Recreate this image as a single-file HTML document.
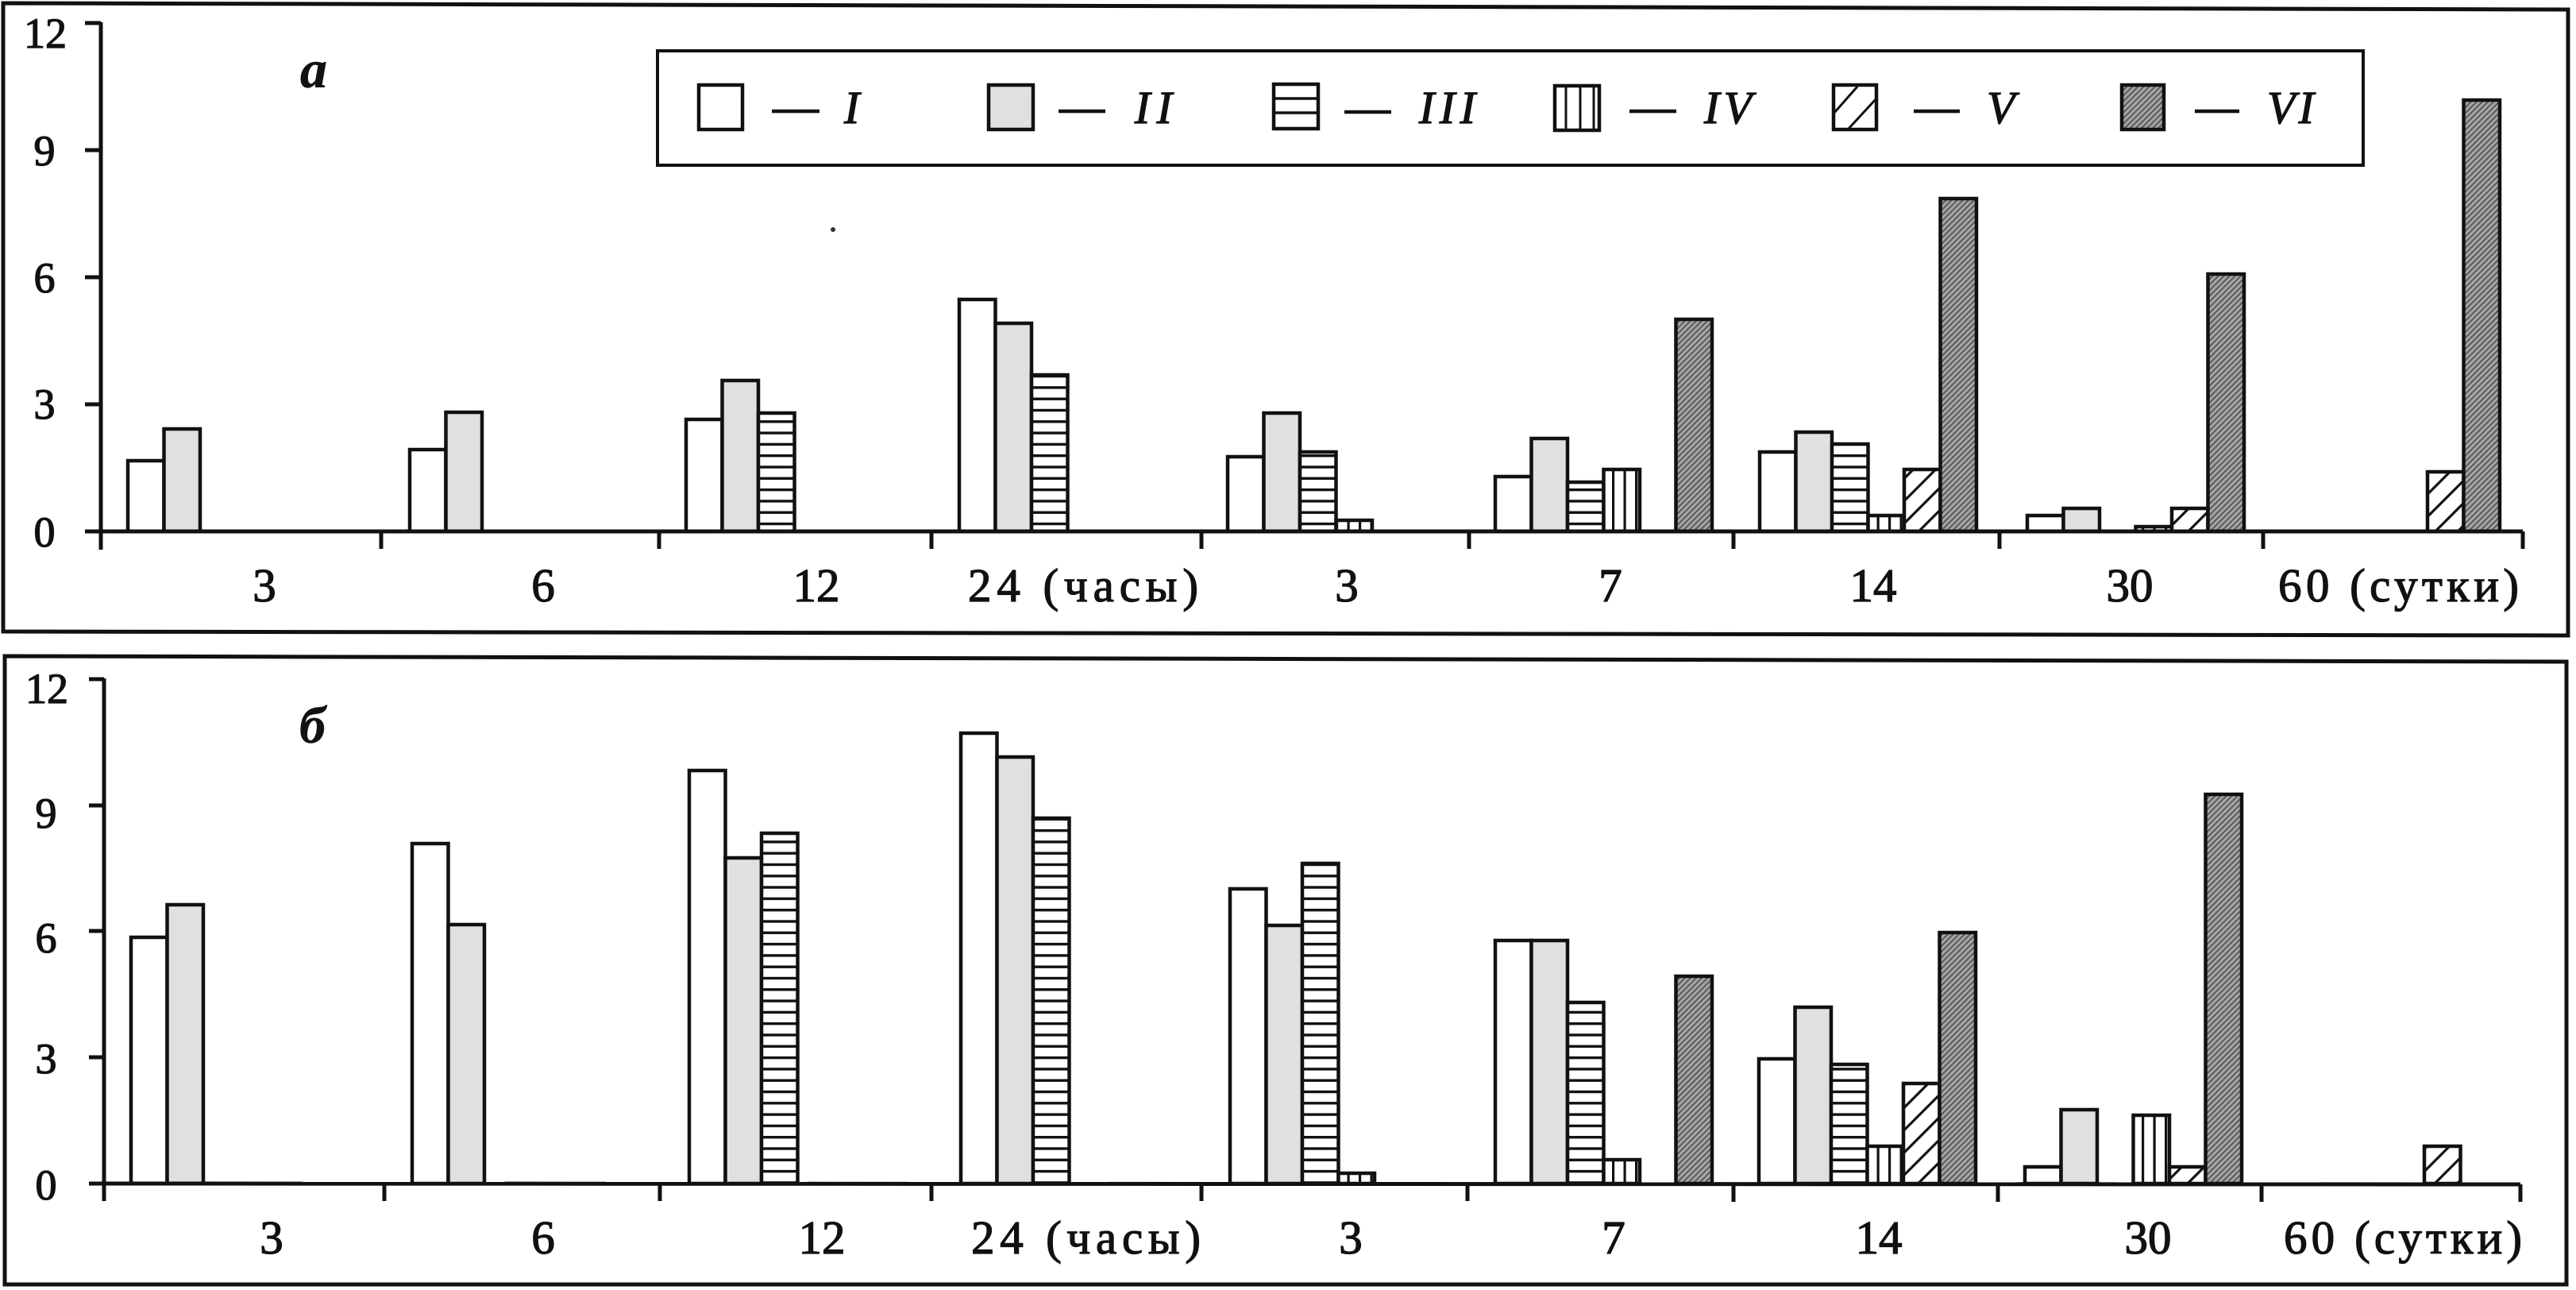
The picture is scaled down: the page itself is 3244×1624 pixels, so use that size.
<!DOCTYPE html>
<html><head><meta charset="utf-8"><style>
html,body{margin:0;padding:0;background:#fff;}
svg{display:block;}
text{font-family:"Liberation Serif",serif;fill:#111;stroke:#111;stroke-width:1.3px;}
</style></head><body>
<svg width="3244" height="1624" viewBox="0 0 3244 1624" xmlns="http://www.w3.org/2000/svg">
<defs>
<pattern id="p3" patternUnits="userSpaceOnUse" width="20" height="14.3"><rect width="20" height="14.3" fill="#fff"/><rect y="0" width="20" height="3.4" fill="#111"/></pattern>
<pattern id="p4" patternUnits="userSpaceOnUse" width="14.5" height="20"><rect width="14.5" height="20" fill="#fff"/><rect x="0" width="3.2" height="20" fill="#111"/></pattern>
<pattern id="p5" patternUnits="userSpaceOnUse" width="20" height="20" patternTransform="rotate(45)"><rect width="20" height="20" fill="#fff"/><rect x="0" width="3.2" height="20" fill="#111"/></pattern>
<pattern id="p6" patternUnits="userSpaceOnUse" width="5" height="5" patternTransform="rotate(45)"><rect width="5" height="5" fill="#a6a6a6"/><rect x="0" width="2" height="5" fill="#5a5a5a"/></pattern>
</defs>
<rect width="3244" height="1624" fill="#fff"/>

<!-- ===== Panel a ===== -->
<polygon points="4,4 3234,12 3234,800 4,795" fill="none" stroke="#111" stroke-width="5"/>

<g stroke="#111" stroke-width="4.5">
<rect x="161" y="580" width="45.5" height="89" fill="#fff"/>
<rect x="206.5" y="540" width="45.5" height="129" fill="#e0e0e0"/>
<rect x="516" y="566" width="45.5" height="103" fill="#fff"/>
<rect x="561.5" y="519" width="45.5" height="150" fill="#e0e0e0"/>
<rect x="864" y="528" width="45.5" height="141" fill="#fff"/>
<rect x="909.5" y="479" width="45.5" height="190" fill="#e0e0e0"/>
<rect x="955" y="520" width="45.5" height="149" fill="url(#p3)"/>
<rect x="1208" y="377" width="45.5" height="292" fill="#fff"/>
<rect x="1253.5" y="407" width="45.5" height="262" fill="#e0e0e0"/>
<rect x="1299" y="472" width="45.5" height="197" fill="url(#p3)"/>
<rect x="1546" y="575" width="45.5" height="94" fill="#fff"/>
<rect x="1591.5" y="520" width="45.5" height="149" fill="#e0e0e0"/>
<rect x="1637" y="569" width="45.5" height="100" fill="url(#p3)"/>
<rect x="1682.5" y="655" width="45.5" height="14" fill="url(#p4)"/>
<rect x="1883" y="600" width="45.5" height="69" fill="#fff"/>
<rect x="1928.5" y="552" width="45.5" height="117" fill="#e0e0e0"/>
<rect x="1974" y="607" width="45.5" height="62" fill="url(#p3)"/>
<rect x="2019.5" y="591" width="45.5" height="78" fill="url(#p4)"/>
<rect x="2110.5" y="402" width="45.5" height="267" fill="url(#p6)"/>
<rect x="2216" y="569" width="45.5" height="100" fill="#fff"/>
<rect x="2261.5" y="544" width="45.5" height="125" fill="#e0e0e0"/>
<rect x="2307" y="559" width="45.5" height="110" fill="url(#p3)"/>
<rect x="2352.5" y="649" width="45.5" height="20" fill="url(#p4)"/>
<rect x="2398" y="591" width="45.5" height="78" fill="url(#p5)"/>
<rect x="2443.5" y="250" width="45.5" height="419" fill="url(#p6)"/>
<rect x="2553" y="649" width="45.5" height="20" fill="#fff"/>
<rect x="2598.5" y="640" width="45.5" height="29" fill="#e0e0e0"/>
<rect x="2689.5" y="663" width="45.5" height="6" fill="url(#p4)"/>
<rect x="2735" y="640" width="45.5" height="29" fill="url(#p5)"/>
<rect x="2780.5" y="345" width="45.5" height="324" fill="url(#p6)"/>
<rect x="3057" y="594" width="45.5" height="75" fill="url(#p5)"/>
<rect x="3102.5" y="126" width="45.5" height="543" fill="url(#p6)"/>
</g>

<g stroke="#111" stroke-width="5" fill="none">
<line x1="127" y1="28" x2="127" y2="692"/>
<line x1="107" y1="669" x2="3177" y2="669"/>
<line x1="107" y1="29" x2="127" y2="29"/>
<line x1="107" y1="189" x2="127" y2="189"/>
<line x1="107" y1="349" x2="127" y2="349"/>
<line x1="107" y1="509" x2="127" y2="509"/>
<line x1="480" y1="669" x2="480" y2="691"/>
<line x1="830" y1="669" x2="830" y2="691"/>
<line x1="1173" y1="669" x2="1173" y2="691"/>
<line x1="1513" y1="669" x2="1513" y2="691"/>
<line x1="1850" y1="669" x2="1850" y2="691"/>
<line x1="2183" y1="669" x2="2183" y2="691"/>
<line x1="2518" y1="669" x2="2518" y2="691"/>
<line x1="2850" y1="669" x2="2850" y2="691"/>
<line x1="3177" y1="669" x2="3177" y2="691"/>
</g>
<g font-size="54" text-anchor="middle">
<text x="57" y="60">12</text>
<text x="56" y="208">9</text>
<text x="56" y="368">6</text>
<text x="56" y="527">3</text>
<text x="56" y="688">0</text>
</g>
<g font-size="59">
<text x="333" y="757" text-anchor="middle">3</text>
<text x="684" y="757" text-anchor="middle">6</text>
<text x="1028" y="757" text-anchor="middle">12</text>
<text x="1219" y="757" textLength="290" lengthAdjust="spacing">24 (часы)</text>
<text x="1696" y="757" text-anchor="middle">3</text>
<text x="2028" y="757" text-anchor="middle">7</text>
<text x="2359" y="757" text-anchor="middle">14</text>
<text x="2682" y="757" text-anchor="middle">30</text>
<text x="2869" y="757" textLength="303" lengthAdjust="spacing">60 (сутки)</text>
</g>
<text x="378" y="110" font-size="68" font-style="italic" font-weight="bold" style="stroke-width:0.5px">а</text>
<circle cx="1049" cy="289" r="3" fill="#333"/>

<!-- legend -->
<rect x="828" y="64" width="2148" height="144" fill="#fff" stroke="#111" stroke-width="4"/>
<g stroke="#111" stroke-width="4.5">
<rect x="880" y="107" width="55" height="56" fill="#fff"/>
<rect x="1245" y="107" width="56" height="56" fill="#e0e0e0"/>
<rect x="1604" y="106" width="56" height="56" fill="#fff"/>
<line x1="1604" y1="124" x2="1660" y2="124" stroke-width="3.5"/>
<line x1="1604" y1="142" x2="1660" y2="142" stroke-width="3.5"/>
<rect x="1958" y="108" width="56" height="56" fill="#fff"/>
<line x1="1972" y1="108" x2="1972" y2="164" stroke-width="3"/>
<line x1="1990" y1="108" x2="1990" y2="164" stroke-width="3"/>
<line x1="2007" y1="108" x2="2007" y2="164" stroke-width="3"/>
<rect x="2309" y="107" width="54" height="56" fill="#fff"/>
<line x1="2309" y1="143" x2="2339" y2="109" stroke-width="3"/>
<line x1="2327" y1="163" x2="2363" y2="124" stroke-width="3"/>
<rect x="2672" y="107" width="53" height="56" fill="url(#p6)"/>
<line x1="972" y1="140" x2="1032" y2="140"/>
<line x1="1333" y1="140" x2="1392" y2="140"/>
<line x1="1693" y1="141" x2="1752" y2="141"/>
<line x1="2052" y1="140" x2="2111" y2="140"/>
<line x1="2410" y1="140" x2="2468" y2="140"/>
<line x1="2764" y1="140" x2="2820" y2="140"/>
</g>
<g font-size="58" font-style="italic">
<text x="1063" y="155">I</text>
<text x="1429" y="155" textLength="47" lengthAdjust="spacing">II</text>
<text x="1787" y="155" textLength="71" lengthAdjust="spacing">III</text>
<text x="2146" y="155" textLength="60" lengthAdjust="spacing">IV</text>
<text x="2502" y="155">V</text>
<text x="2855" y="155" textLength="59" lengthAdjust="spacing">VI</text>
</g>

<!-- ===== Panel b ===== -->
<polygon points="6,826 3232,833 3232,1617 6,1617" fill="none" stroke="#111" stroke-width="5"/>

<g stroke="#111" stroke-width="4.5">
<rect x="165" y="1180" width="45.5" height="310" fill="#fff"/>
<rect x="210.5" y="1139" width="45.5" height="351" fill="#e0e0e0"/>
<rect x="519" y="1062" width="45.5" height="428" fill="#fff"/>
<rect x="564.5" y="1164" width="45.5" height="326" fill="#e0e0e0"/>
<rect x="868" y="970" width="45.5" height="520" fill="#fff"/>
<rect x="913.5" y="1080" width="45.5" height="410" fill="#e0e0e0"/>
<rect x="959" y="1049" width="45.5" height="441" fill="url(#p3)"/>
<rect x="1210" y="923" width="45.5" height="567" fill="#fff"/>
<rect x="1255.5" y="953" width="45.5" height="537" fill="#e0e0e0"/>
<rect x="1301" y="1030" width="45.5" height="460" fill="url(#p3)"/>
<rect x="1549" y="1119" width="45.5" height="371" fill="#fff"/>
<rect x="1594.5" y="1165" width="45.5" height="325" fill="#e0e0e0"/>
<rect x="1640" y="1087" width="45.5" height="403" fill="url(#p3)"/>
<rect x="1685.5" y="1477" width="45.5" height="13" fill="url(#p4)"/>
<rect x="1883" y="1184" width="45.5" height="306" fill="#fff"/>
<rect x="1928.5" y="1184" width="45.5" height="306" fill="#e0e0e0"/>
<rect x="1974" y="1262" width="45.5" height="228" fill="url(#p3)"/>
<rect x="2019.5" y="1460" width="45.5" height="30" fill="url(#p4)"/>
<rect x="2110.5" y="1229" width="45.5" height="261" fill="url(#p6)"/>
<rect x="2215" y="1333" width="45.5" height="157" fill="#fff"/>
<rect x="2260.5" y="1268" width="45.5" height="222" fill="#e0e0e0"/>
<rect x="2306" y="1340" width="45.5" height="150" fill="url(#p3)"/>
<rect x="2351.5" y="1443" width="45.5" height="47" fill="url(#p4)"/>
<rect x="2397" y="1364" width="45.5" height="126" fill="url(#p5)"/>
<rect x="2442.5" y="1174" width="45.5" height="316" fill="url(#p6)"/>
<rect x="2550" y="1469" width="45.5" height="21" fill="#fff"/>
<rect x="2595.5" y="1397" width="45.5" height="93" fill="#e0e0e0"/>
<rect x="2686.5" y="1404" width="45.5" height="86" fill="url(#p4)"/>
<rect x="2732" y="1469" width="45.5" height="21" fill="url(#p5)"/>
<rect x="2777.5" y="1000" width="45.5" height="490" fill="url(#p6)"/>
<rect x="3053" y="1443" width="45.5" height="47" fill="url(#p5)"/>
</g>

<g stroke="#111" stroke-width="5" fill="none">
<line x1="131" y1="854" x2="131" y2="1512"/>
<line x1="112" y1="1490" x2="3174" y2="1491"/>
<line x1="112" y1="855" x2="131" y2="855"/>
<line x1="112" y1="1014" x2="131" y2="1014"/>
<line x1="112" y1="1172" x2="131" y2="1172"/>
<line x1="112" y1="1331" x2="131" y2="1331"/>
<line x1="484" y1="1490" x2="484" y2="1512"/>
<line x1="831" y1="1490" x2="831" y2="1512"/>
<line x1="1173" y1="1490" x2="1173" y2="1512"/>
<line x1="1513" y1="1490" x2="1513" y2="1512"/>
<line x1="1848" y1="1490" x2="1848" y2="1512"/>
<line x1="2183" y1="1491" x2="2183" y2="1513"/>
<line x1="2516" y1="1491" x2="2516" y2="1513"/>
<line x1="2848" y1="1491" x2="2848" y2="1513"/>
<line x1="3174" y1="1491" x2="3174" y2="1513"/>
</g>
<g font-size="54" text-anchor="middle">
<text x="59" y="885">12</text>
<text x="58" y="1042">9</text>
<text x="58" y="1199">6</text>
<text x="58" y="1351">3</text>
<text x="58" y="1510">0</text>
</g>
<g font-size="59">
<text x="342" y="1578" text-anchor="middle">3</text>
<text x="684" y="1578" text-anchor="middle">6</text>
<text x="1035" y="1578" text-anchor="middle">12</text>
<text x="1223" y="1578" textLength="289" lengthAdjust="spacing">24 (часы)</text>
<text x="1701" y="1578" text-anchor="middle">3</text>
<text x="2032" y="1578" text-anchor="middle">7</text>
<text x="2366" y="1578" text-anchor="middle">14</text>
<text x="2705" y="1578" text-anchor="middle">30</text>
<text x="2876" y="1578" textLength="300" lengthAdjust="spacing">60 (сутки)</text>
</g>
<text x="377" y="935" font-size="66" font-style="italic" font-weight="bold" style="stroke-width:0.5px">б</text>
</svg>
</body></html>
